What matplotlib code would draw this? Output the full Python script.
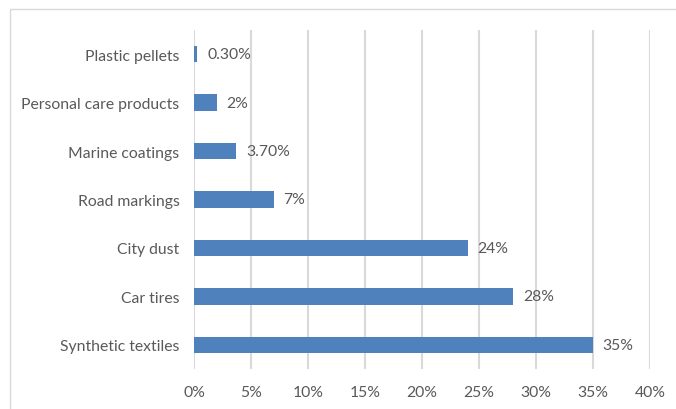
import matplotlib
matplotlib.use("Agg")
import matplotlib.pyplot as plt
from matplotlib.patches import Rectangle

categories = ["Synthetic textiles", "Car tires", "City dust", "Road markings",
              "Marine coatings", "Personal care products", "Plastic pellets"]
values = [35, 28, 24, 7, 3.7, 2, 0.3]
value_labels = ["35%", "28%", "24%", "7%", "3.70%", "2%", "0.30%"]
xticks = [0, 5, 10, 15, 20, 25, 30, 35, 40]
xtick_labels = ["0%", "5%", "10%", "15%", "20%", "25%", "30%", "35%", "40%"]

plt.rcParams['font.family'] = ['Lato', 'DejaVu Sans']
txt = "#595959"
fs = 11.3

fig = plt.figure(figsize=(6.76, 4.10), dpi=100)
ax = fig.add_axes([194/676, 1-370/410, (650-194)/676, (370-31)/410])

ypos = list(range(len(categories)))
ax.barh(ypos, values, height=0.34, color="#4F81BD", zorder=3)
for y, v, lab in zip(ypos, values, value_labels):
    ax.text(v + 0.85, y, lab, va="center", ha="left", fontsize=fs, color=txt)

ax.set_xlim(0, 40)
ax.set_ylim(-0.5, 6.5)
ax.set_xticks(xticks)
ax.set_xticklabels(xtick_labels, fontsize=fs, color=txt)
ax.set_yticks(ypos)
ax.set_yticklabels(categories, fontsize=fs, color=txt)
ax.tick_params(axis="both", length=0)
ax.tick_params(axis="y", pad=10.5)
ax.tick_params(axis="x", pad=11.5)
ax.grid(axis="x", color="#D9D9D9", linewidth=1.5, zorder=0)
for s in ax.spines.values():
    s.set_visible(False)

fig.patches.append(Rectangle((10/676, -0.1), 1.2, 400/410 + 0.1,
                             transform=fig.transFigure, fill=False,
                             edgecolor="#D9D9D9", linewidth=1))
fig.savefig("out.png", dpi=100)
